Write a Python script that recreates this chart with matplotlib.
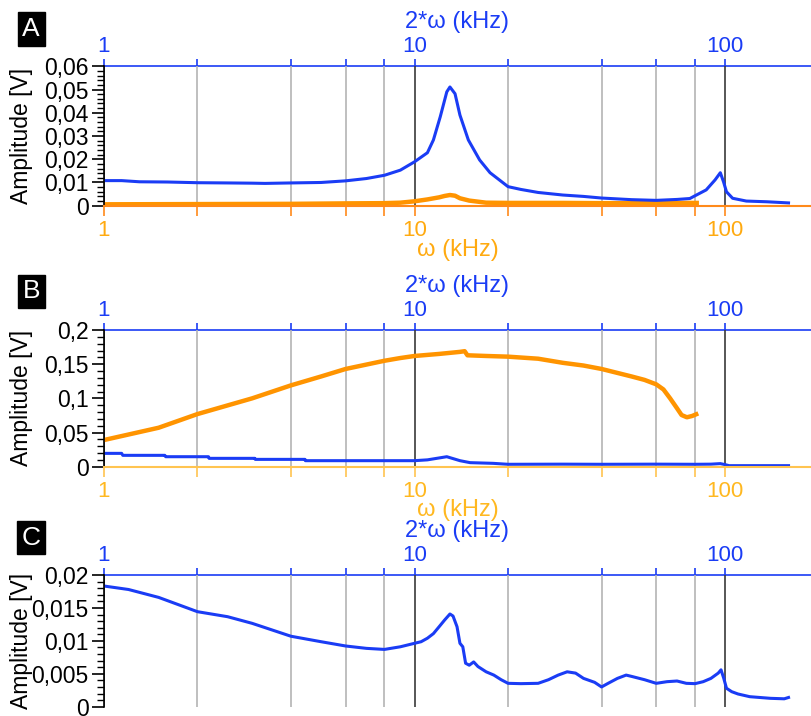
import matplotlib.pyplot as plt
import numpy as np
from matplotlib.ticker import LogLocator, MultipleLocator, FuncFormatter, NullFormatter

plt.rcParams['font.family'] = ['Liberation Sans', 'DejaVu Sans']

BLUE = '#1a3cf5'
ORANGE = '#ff9400'

# --- panel A ---
a_blue_f = [1, 1.14, 1.3, 1.6, 2, 2.5, 3, 3.3, 4, 5, 6, 7, 8, 9, 10, 11, 11.5, 12.1, 12.7,
            13.0, 13.5, 14, 14.9, 16.2, 17.5, 20, 22, 25, 30, 35, 40, 50, 60, 70, 77,
            79, 86.9, 92.8, 96.5, 98.8, 101, 105.7, 117, 136, 160]
a_blue_v = [0.0108, 0.0108, 0.0103, 0.0102, 0.0099, 0.0098, 0.0097, 0.0096, 0.0098, 0.0100,
            0.0107, 0.0117, 0.0131, 0.0153, 0.0189, 0.0228, 0.0283, 0.0383, 0.0490,
            0.0511, 0.0482, 0.0390, 0.0283, 0.0197, 0.0142, 0.0082, 0.0070, 0.0057, 0.0046,
            0.0040, 0.0033, 0.0026, 0.0023, 0.0027, 0.0031,
            0.0039, 0.0068, 0.0111, 0.0142, 0.0103, 0.0060, 0.0032, 0.0020, 0.0017, 0.0012]
a_orange_f = [1, 2, 4, 6, 8, 9, 10, 11, 12, 12.5, 13, 13.5, 14, 15, 17, 20, 25, 30, 40, 50,
              60, 70, 81]
a_orange_v = [0.0006, 0.0007, 0.0008, 0.0010, 0.0011, 0.0013, 0.0019, 0.0027, 0.0036, 0.0042,
              0.0046, 0.0043, 0.0032, 0.0022, 0.0013, 0.0012, 0.0012, 0.0012, 0.0011, 0.0011,
              0.0012, 0.0012, 0.0012]

# --- panel B ---
b_orange_f = [1, 1.5, 2, 3, 4, 5, 6, 8, 9, 10, 12, 14, 14.5, 14.8, 17, 20, 25, 30, 35, 40,
              50, 55, 60, 63.3, 66.5, 70, 72.4, 75.3, 78.3, 80.7]
b_orange_v = [0.039, 0.057, 0.077, 0.100, 0.119, 0.132, 0.143, 0.155, 0.159, 0.162, 0.165,
              0.168, 0.169, 0.163, 0.162, 0.161, 0.158, 0.152, 0.148, 0.143, 0.132, 0.127,
              0.1205, 0.113, 0.100, 0.0854, 0.0756, 0.0723, 0.0742, 0.0767]
b_blue_f = [1, 1.14, 1.15, 1.57, 1.58, 2.17, 2.18, 3.06, 3.07, 4.44, 4.45, 10, 11, 12.7,
            14, 15.1, 17.9, 20, 30, 40, 60, 80, 90, 96.5, 100, 103, 120, 160]
b_blue_v = [0.0195, 0.0195, 0.0166, 0.0166, 0.0146, 0.0146, 0.0122, 0.0122, 0.0107, 0.0107,
            0.0088, 0.0088, 0.0100, 0.0146, 0.0088, 0.0059, 0.0049, 0.0035, 0.0037, 0.0035,
            0.0037, 0.0035, 0.0037, 0.0045, 0.0030, 0.0015, 0.0015, 0.0015]

# --- panel C ---
c_blue_f = [1, 1.2, 1.5, 2, 2.5, 3, 4, 5, 6, 7, 8, 9, 10, 10.5, 11, 11.5, 12, 12.5, 13,
            13.3, 13.7, 14, 14.3, 14.6, 15, 15.5, 16, 17, 18, 19, 20, 22, 25, 27, 29, 31,
            33, 35, 38, 40, 42, 45, 48, 50, 55, 60, 65, 70, 75, 80, 85, 90, 95, 97, 99,
            101, 105, 110, 120, 140, 155, 160]
c_blue_v = [0.01833, 0.0178, 0.0166, 0.01443, 0.01367, 0.01266, 0.0107, 0.00987, 0.00922,
            0.00886, 0.0087, 0.0091, 0.00963, 0.00987, 0.0104, 0.0111, 0.01215, 0.01317,
            0.01408, 0.01377, 0.01215, 0.00963, 0.0091, 0.0066, 0.0063, 0.0068, 0.0061,
            0.0053, 0.0048, 0.0041, 0.00355, 0.0035, 0.00355, 0.0041, 0.0048, 0.0053,
            0.0051, 0.0043, 0.0037, 0.0030, 0.00355, 0.0043, 0.0048, 0.0046, 0.0041,
            0.00355, 0.0038, 0.0039, 0.00355, 0.0035, 0.0038, 0.0043, 0.0051, 0.0056,
            0.0043, 0.0028, 0.00228, 0.00193, 0.00152, 0.00127, 0.0012, 0.0014]


def comma(v, pos):
    return ('%g' % round(v, 6)).replace('.', ',')


def plain(v, pos):
    return '%g' % v


def setup(ax, ymax, ystep, yminor, bot_spine, bot_label, show_bottom=True):
    ax.set_xscale('log')
    ax.set_xlim(1, 189)
    ax.set_ylim(0, ymax)
    ax.xaxis.set_major_locator(LogLocator(base=10))
    ax.xaxis.set_minor_locator(LogLocator(base=10, subs=(2, 4, 6, 8)))
    ax.xaxis.set_major_formatter(FuncFormatter(plain))
    ax.xaxis.set_minor_formatter(NullFormatter())
    ax.yaxis.set_major_locator(MultipleLocator(ystep))
    ax.yaxis.set_minor_locator(MultipleLocator(yminor))
    ax.yaxis.set_major_formatter(FuncFormatter(comma))
    ax.grid(True, which='minor', axis='x', color='#b4b4b4', lw=1.2)
    ax.grid(True, which='major', axis='x', color='#3a3a3a', lw=1.2)
    ax.set_axisbelow(True)
    ax.spines['right'].set_visible(False)
    ax.spines['top'].set_visible(False)
    ax.spines['left'].set_linewidth(1.2)
    ax.tick_params(axis='y', which='major', length=8.5, width=1.2, pad=2.5, labelsize=16.5)
    ax.tick_params(axis='y', which='minor', length=5, width=1.0)
    if show_bottom:
        ax.spines['bottom'].set_color(bot_spine)
        ax.spines['bottom'].set_linewidth(1.5)
        ax.tick_params(axis='x', which='both', colors=bot_spine, length=7, width=1.2,
                       labelcolor=bot_label, labelsize=16, pad=3.5)
        ax.set_xlabel('ω (kHz)', color=bot_label, fontsize=17, labelpad=-2)
    else:
        ax.spines['bottom'].set_visible(False)
        ax.tick_params(axis='x', which='both', bottom=False, labelbottom=False)
    ax.set_ylabel('Amplitude [V]', fontsize=16.5)
    ax.yaxis.set_label_coords(-0.1, 0.5)

    sec = ax.secondary_xaxis('top')
    sec.xaxis.set_major_locator(LogLocator(base=10))
    sec.xaxis.set_minor_locator(LogLocator(base=10, subs=(2, 4, 6, 8)))
    sec.xaxis.set_major_formatter(FuncFormatter(plain))
    sec.xaxis.set_minor_formatter(NullFormatter())
    sec.spines['top'].set_color(BLUE)
    sec.spines['top'].set_linewidth(1.2)
    sec.tick_params(axis='x', which='both', colors=BLUE, length=5, width=1.2,
                    labelsize=16, pad=1.5)
    sec.set_xlabel('2*ω (kHz)', color=BLUE, fontsize=17, labelpad=6)
    return sec


fig = plt.figure(figsize=(8.11, 7.16), dpi=100)

axA = fig.add_axes([0.1282, 0.7127, 0.8718, 0.1947])
setup(axA, 0.06, 0.01, 0.002, '#ff8a1a', '#ffaa10')
axA.plot(a_orange_f, a_orange_v, color=ORANGE, lw=3.2)
axA.plot(a_blue_f, a_blue_v, color=BLUE, lw=2.2)

axB = fig.add_axes([0.1282, 0.3482, 0.8718, 0.1909])
setup(axB, 0.2, 0.05, 0.01, '#ffc450', '#ffb820')
axB.plot(b_blue_f, b_blue_v, color=BLUE, lw=2.2)
axB.plot(b_orange_f, b_orange_v, color=ORANGE, lw=3.2)

axC = fig.add_axes([0.1282, 0.0130, 0.8718, 0.1839])
setup(axC, 0.02, 0.005, 0.001, None, None, show_bottom=False)
axC.plot(c_blue_f, c_blue_v, color=BLUE, lw=2.2)

for lab, yy in [('A', 0.9595), ('B', 0.5929), ('C', 0.2493)]:
    fig.text(0.0385, yy, lab, color='white', fontsize=19, ha='center', va='center',
             bbox=dict(boxstyle='square,pad=0.18', fc='black', ec='black'))

fig.savefig('out.png', dpi=100)
